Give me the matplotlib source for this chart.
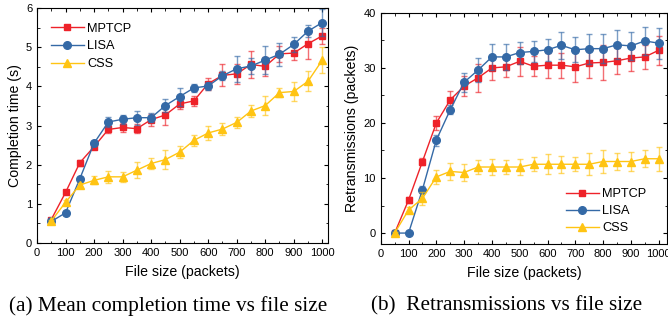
import numpy as np
import matplotlib.pyplot as plt
from matplotlib.ticker import MultipleLocator

# file sizes (packets)
sizes = np.arange(50, 1001, 50)

# (a) mean completion time (s)
ct_mptcp = [0.60, 1.29, 2.05, 2.46, 2.90, 2.95, 2.92, 3.15, 3.27, 3.55,
            3.63, 4.07, 4.28, 4.32, 4.56, 4.51, 4.83, 4.85, 5.09, 5.29]
ct_mptcp_err = [0.05, 0.05, 0.08, 0.05, 0.10, 0.12, 0.12, 0.15, 0.25, 0.12,
                0.13, 0.15, 0.28, 0.25, 0.35, 0.25, 0.20, 0.18, 0.38, 0.20]
ct_lisa = [0.55, 0.77, 1.64, 2.55, 3.09, 3.16, 3.20, 3.20, 3.51, 3.74,
           3.96, 4.01, 4.27, 4.45, 4.52, 4.67, 4.82, 5.07, 5.41, 5.63]
ct_lisa_err = [0.03, 0.05, 0.05, 0.05, 0.13, 0.12, 0.18, 0.12, 0.17, 0.23,
               0.10, 0.10, 0.12, 0.33, 0.20, 0.35, 0.30, 0.20, 0.15, 0.35]
ct_css = [0.56, 1.04, 1.48, 1.60, 1.69, 1.69, 1.86, 2.03, 2.13, 2.32,
          2.62, 2.81, 2.91, 3.08, 3.37, 3.51, 3.84, 3.87, 4.13, 4.67]
ct_css_err = [0.03, 0.05, 0.05, 0.10, 0.15, 0.12, 0.20, 0.15, 0.25, 0.15,
              0.15, 0.18, 0.15, 0.15, 0.15, 0.25, 0.12, 0.25, 0.25, 0.33]

# (b) retransmissions (packets)
rt_mptcp = [0, 6.0, 13.0, 20.0, 24.2, 26.7, 28.2, 30.0, 30.2, 31.2,
            30.3, 30.5, 30.5, 30.2, 30.9, 31.0, 31.3, 31.8, 32.0, 33.2]
rt_mptcp_err = [0.2, 0.5, 0.6, 1.3, 1.6, 1.8, 2.5, 2.2, 1.9, 2.6,
                1.8, 2.3, 2.3, 2.7, 2.8, 3.2, 2.4, 2.4, 2.2, 2.6]
rt_lisa = [0, 0, 7.9, 16.9, 22.4, 27.4, 29.6, 32.0, 32.0, 32.8,
           33.0, 33.3, 34.1, 33.3, 33.5, 33.5, 34.2, 34.0, 34.9, 34.5]
rt_lisa_err = [0.2, 0.2, 0.6, 1.0, 0.8, 1.7, 2.2, 2.3, 2.4, 2.0,
               1.9, 2.0, 2.5, 2.3, 2.7, 2.6, 2.6, 2.5, 2.5, 2.8]
rt_css = [0, 4.2, 6.3, 10.2, 11.2, 11.0, 12.0, 12.0, 12.0, 12.0,
          12.5, 12.5, 12.5, 12.5, 12.5, 13.0, 13.0, 13.0, 13.5, 13.5]
rt_css_err = [0.2, 0.5, 1.2, 1.2, 1.5, 1.5, 1.3, 1.5, 1.3, 1.5,
              1.3, 1.8, 1.5, 1.3, 2.0, 2.0, 1.6, 1.8, 1.5, 2.2]

labels = ["MPTCP", "LISA", "CSS"]
colors = ["#ee2229", "#3469a6", "#ffc413"]
markers = ["s", "o", "^"]
msizes = [5, 5.5, 6]

plt.rcParams['font.family'] = ['Liberation Sans', 'DejaVu Sans']

fig = plt.figure(figsize=(6.68, 3.22), dpi=100)
ax1 = fig.add_axes([0.0554, 0.2453, 0.4356, 0.7297])
ax2 = fig.add_axes([0.570, 0.242, 0.4285, 0.718])


def draw(ax, series, errs):
    for y, e, lab, c, m, ms in zip(series, errs, labels, colors, markers, msizes):
        ax.errorbar(sizes, y, yerr=e, fmt='none', ecolor=c, elinewidth=1.0,
                    capsize=2.5, capthick=1.0, alpha=0.65)
        ax.plot(sizes, y, color=c, lw=1.0, marker=m, ms=ms, label=lab)
    ax.tick_params(direction='in', which='both', top=True, right=True,
                   labelsize=8, length=3)
    ax.tick_params(which='minor', length=1.8)
    ax.xaxis.set_major_locator(MultipleLocator(100))
    ax.xaxis.set_minor_locator(MultipleLocator(50))
    ax.set_xlabel("File size (packets)", fontsize=10.2, labelpad=5)
    for s in ax.spines.values():
        s.set_linewidth(0.8)


draw(ax1, [ct_mptcp, ct_lisa, ct_css], [ct_mptcp_err, ct_lisa_err, ct_css_err])
ax1.set_xlim(0, 1020)
ax1.set_ylim(0, 6)
ax1.yaxis.set_major_locator(MultipleLocator(1))
ax1.yaxis.set_minor_locator(MultipleLocator(0.5))
ax1.set_ylabel("Completion time (s)", fontsize=10.2, labelpad=3)
ax1.legend(loc='upper left', frameon=False, fontsize=9.2, handlelength=2.6,
           handletextpad=0.25, labelspacing=0.45, borderaxespad=0.0,
           bbox_to_anchor=(0.03, 0.96))

draw(ax2, [rt_mptcp, rt_lisa, rt_css], [rt_mptcp_err, rt_lisa_err, rt_css_err])
ax2.set_xlim(0, 1030)
ax2.set_ylim(-2, 40)
ax2.yaxis.set_major_locator(MultipleLocator(10))
ax2.yaxis.set_minor_locator(MultipleLocator(5))
ax2.set_ylabel("Retransmissions (packets)", fontsize=10.2, labelpad=3)
ax2.legend(loc='lower right', frameon=False, fontsize=9.2, handlelength=2.6,
           handletextpad=0.25, labelspacing=0.4, borderaxespad=0.0,
           bbox_to_anchor=(0.945, 0.02))

fig.text(0.251, 0.05, "(a) Mean completion time vs file size",
         family=['Liberation Serif', 'DejaVu Serif'], fontsize=15.3,
         ha='center', va='center')
fig.text(0.759, 0.05, "(b)  Retransmissions vs file size",
         family=['Liberation Serif', 'DejaVu Serif'], fontsize=15.3,
         ha='center', va='center')

fig.savefig("out.png", dpi=100)
